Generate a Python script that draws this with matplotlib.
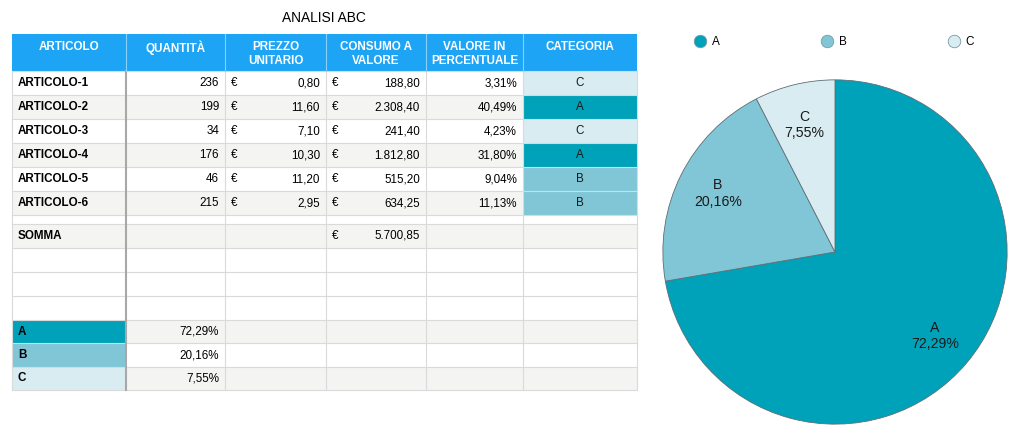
import matplotlib
matplotlib.use("Agg")
import matplotlib.pyplot as plt
from matplotlib.patches import Rectangle
from matplotlib.lines import Line2D

# ---------------- data ----------------
title = "ANALISI ABC"
headers = ["ARTICOLO", "QUANTITÀ", "PREZZO\nUNITARIO", "CONSUMO A\nVALORE",
           "VALORE IN\nPERCENTUALE", "CATEGORIA"]
articoli = ["ARTICOLO-1", "ARTICOLO-2", "ARTICOLO-3", "ARTICOLO-4", "ARTICOLO-5", "ARTICOLO-6"]
quantita = [236, 199, 34, 176, 46, 215]
prezzo = [0.80, 11.60, 7.10, 10.30, 11.20, 2.95]
consumo = [188.80, 2308.40, 241.40, 1812.80, 515.20, 634.25]
percentuale = [3.31, 40.49, 4.23, 31.80, 9.04, 11.13]
categoria = ["C", "A", "C", "A", "B", "B"]
somma_label = "SOMMA"
somma = 5700.85
cat_labels = ["A", "B", "C"]
cat_pct = [72.29, 20.16, 7.55]

# ---------------- style ----------------
FONT = "Liberation Sans"
plt.rcParams["font.family"] = [FONT, "DejaVu Sans"]
cat_colors = {"A": "#00A2B9", "B": "#80C6D6", "C": "#D8ECF2"}
header_color = "#1DA4F5"
gray_bg = "#F4F4F2"
grid_color = "#DADADA"
FS = 8.4

def it_num(v, dec=2):
    s = f"{v:,.{dec}f}"
    return s.replace(",", "X").replace(".", ",").replace("X", ".")

W, H = 1024, 438
fig = plt.figure(figsize=(W / 100, H / 100), dpi=100)
ax = fig.add_axes([0, 0, 1, 1])
ax.set_xlim(0, W)
ax.set_ylim(H, 0)
ax.axis("off")

ax.text(324, 18, title, ha="center", va="center", fontsize=9.9, color="black")

# layout
col_edges = [12, 126, 225, 326, 426, 523, 637]
row_heights = [37] + [24] * 6 + [9] + [24] + [24] * 3 + [23.4] * 3
row_tops = [34]
for h in row_heights:
    row_tops.append(row_tops[-1] + h)
x0, x1 = col_edges[0], col_edges[-1]
PAD = 6

# row roles
# 0 header, 1-6 articles, 7 spacer, 8 somma, 9-11 blank, 12-14 categories
gray_rows = [2, 4, 6, 8, 12, 14]
for r in gray_rows:
    ax.add_patch(Rectangle((x0, row_tops[r]), x1 - x0, row_heights[r],
                           facecolor=gray_bg, edgecolor="none", zorder=1))

# header
ax.add_patch(Rectangle((x0, row_tops[0]), x1 - x0, row_heights[0],
                       facecolor=header_color, edgecolor="none", zorder=2))
for c, htxt in enumerate(headers):
    xc = (col_edges[c] + col_edges[c + 1]) / 2
    ax.text(xc, row_tops[0] + 6.5, htxt, ha="center", va="top", fontsize=FS,
            fontweight="bold", color="white", linespacing=1.25, zorder=5)

def ymid(r):
    return row_tops[r] + row_heights[r] / 2

# article rows
for i in range(len(articoli)):
    r = i + 1
    y = ymid(r)
    ax.text(col_edges[0] + PAD, y, articoli[i], ha="left", va="center",
            fontsize=FS, fontweight="bold", zorder=5)
    ax.text(col_edges[2] - PAD, y, str(quantita[i]), ha="right", va="center", fontsize=FS, zorder=5)
    ax.text(col_edges[2] + PAD, y, "€", ha="left", va="center", fontsize=FS, zorder=5)
    ax.text(col_edges[3] - PAD, y, it_num(prezzo[i]), ha="right", va="center", fontsize=FS, zorder=5)
    ax.text(col_edges[3] + PAD, y, "€", ha="left", va="center", fontsize=FS, zorder=5)
    ax.text(col_edges[4] - PAD, y, it_num(consumo[i]), ha="right", va="center", fontsize=FS, zorder=5)
    ax.text(col_edges[5] - PAD, y, it_num(percentuale[i]) + "%", ha="right", va="center", fontsize=FS, zorder=5)
    ax.add_patch(Rectangle((col_edges[5], row_tops[r]), col_edges[6] - col_edges[5], row_heights[r],
                           facecolor=cat_colors[categoria[i]], edgecolor="white", lw=0.6, zorder=3))
    ax.text((col_edges[5] + col_edges[6]) / 2, y, categoria[i], ha="center", va="center",
            fontsize=FS, color="#1a1a1a", zorder=5)

# somma row
ys = ymid(8)
ax.text(col_edges[0] + PAD, ys, somma_label, ha="left", va="center", fontsize=FS, fontweight="bold", zorder=5)
ax.text(col_edges[3] + PAD, ys, "€", ha="left", va="center", fontsize=FS, zorder=5)
ax.text(col_edges[4] - PAD, ys, it_num(somma), ha="right", va="center", fontsize=FS, zorder=5)

# category summary rows
for k, (lab, pct) in enumerate(zip(cat_labels, cat_pct)):
    r = 12 + k
    ax.add_patch(Rectangle((col_edges[0], row_tops[r]), col_edges[1] - col_edges[0], row_heights[r],
                           facecolor=cat_colors[lab], edgecolor="none", zorder=3))
    ax.text(col_edges[0] + PAD, ymid(r), lab, ha="left", va="center", fontsize=FS,
            fontweight="bold", zorder=5)
    ax.text(col_edges[2] - PAD, ymid(r), it_num(pct) + "%", ha="right", va="center",
            fontsize=FS, zorder=5)

# grid lines
for r in range(1, len(row_tops)):
    ax.plot([x0, x1], [row_tops[r], row_tops[r]], color=grid_color, lw=0.8, zorder=4)
for c in range(1, len(col_edges) - 1):
    if c == 1:
        ax.plot([col_edges[c]] * 2, [row_tops[1], row_tops[-1]], color="#A8A8A8", lw=1.5, zorder=4)
    else:
        ax.plot([col_edges[c]] * 2, [row_tops[1], row_tops[-1]], color=grid_color, lw=0.8, zorder=4)
    ax.plot([col_edges[c]] * 2, [row_tops[0], row_tops[1]], color="#8ACFF8", lw=0.8, zorder=4)
ax.plot([x0, x0], [row_tops[1], row_tops[-1]], color=grid_color, lw=0.8, zorder=4)
ax.plot([x1, x1], [row_tops[1], row_tops[-1]], color=grid_color, lw=0.8, zorder=4)

# ---------------- pie ----------------
cx, cy, R = 835, 252, 173
pax = fig.add_axes([(cx - R) / W, (H - cy - R) / H, 2 * R / W, 2 * R / H])
pie_labels = [f"{l}\n{it_num(p)}%" for l, p in zip(cat_labels, cat_pct)]
wedges, texts = pax.pie(cat_pct, labels=pie_labels, colors=[cat_colors[l] for l in cat_labels],
                        startangle=90, counterclock=False, labeldistance=0.76,
                        wedgeprops=dict(edgecolor="#5E6E74", linewidth=0.6),
                        textprops=dict(fontsize=10.2, color="#1a1a1a", ha="center",
                                       va="center", linespacing=1.2))
for t in texts:
    t.set_horizontalalignment("center")
pax.set_xlim(-1.005, 1.005)
pax.set_ylim(-1.005, 1.005)
pax.set_aspect("equal")

# legend
handles = [Line2D([], [], marker="o", linestyle="none", markersize=9,
                  markerfacecolor=cat_colors[l], markeredgecolor="#7a9aa3",
                  markeredgewidth=0.6, label=l) for l in cat_labels]
fig.legend(handles=handles, loc="center", bbox_to_anchor=(834 / W, 1 - 42 / H),
           ncol=3, frameon=False, fontsize=8.5, handlelength=1.0, handletextpad=0.5,
           columnspacing=8.6, borderpad=0)

fig.savefig("out.png", dpi=100)
